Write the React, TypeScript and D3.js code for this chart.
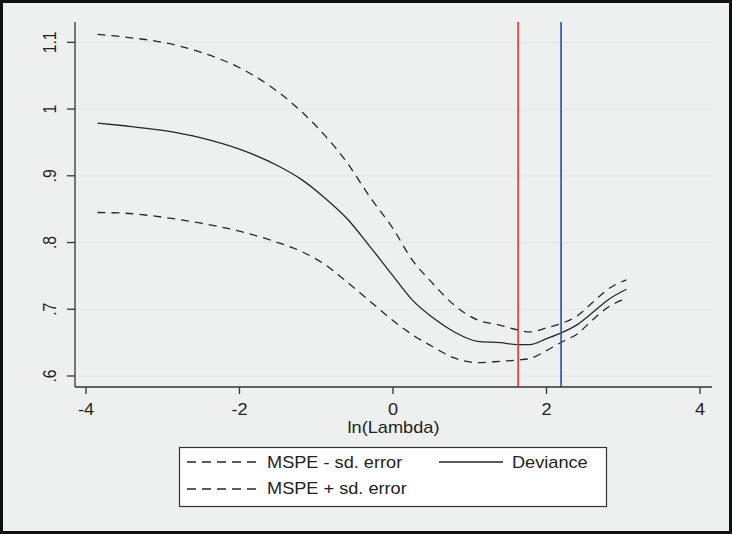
import React from "react";
import * as d3 from "d3";

const lambdas = [-3.85, -3.5, -3.0, -2.5, -2.0, -1.5, -1.2, -0.9, -0.6, -0.3, 0, 0.25, 0.5, 0.8, 1.1, 1.4, 1.63, 1.78, 2.0, 2.2, 2.4, 2.6, 2.8, 3.04];
const deviance = [0.979, 0.975, 0.968, 0.957, 0.94, 0.915, 0.895, 0.868, 0.836, 0.794, 0.75, 0.714, 0.689, 0.666, 0.652, 0.65, 0.647, 0.647, 0.656, 0.665, 0.677, 0.695, 0.714, 0.73];
const msePlus = [1.112, 1.108, 1.1, 1.085, 1.062, 1.026, 0.997, 0.962, 0.92, 0.868, 0.821, 0.774, 0.741, 0.706, 0.684, 0.676, 0.669, 0.666, 0.672, 0.679, 0.69, 0.71, 0.73, 0.744];
const mseMinus = [0.845, 0.844, 0.838, 0.829, 0.817, 0.8, 0.787, 0.768, 0.741, 0.712, 0.683, 0.662, 0.645, 0.627, 0.62, 0.622, 0.624, 0.626, 0.638, 0.651, 0.663, 0.684, 0.703, 0.716];
const xTicks = [-4, -2, 0, 2, 4];
const yTicks = [0.6, 0.7, 0.8, 0.9, 1.0, 1.1];
const yTickLabels = [".6", ".7", ".8", ".9", "1", "1.1"];
const lambdaMin = 1.63;
const lambdaLse = 2.19;
const legendLabels = ["MSPE - sd. error", "Deviance", "MSPE + sd. error"];

const W = 732, H = 534;
const L = 75, R = 712, T = 22, B = 387;
const FONT = "'Liberation Sans', Arial, Helvetica, sans-serif";
const FS = 15.8;
const SX = 1.15;

function HText({ x, y, anchor = "start", children }: { x: number; y: number; anchor?: string; children: React.ReactNode }) {
  return (
    <text transform={`translate(${x},${y}) scale(${SX},1)`} textAnchor={anchor} fontSize={FS} fill="#222">
      {children}
    </text>
  );
}

export default function App() {
  const x = d3.scaleLinear().domain([-4.143, 4.156]).range([L, R]);
  const y = d3.scaleLinear().domain([0.5835, 1.1305]).range([B, T]);
  const line = (vals: number[]) =>
    d3.line<number>().x((_, i) => x(lambdas[i])).y((d) => y(d)).curve(d3.curveMonotoneX)(vals) || "";
  const ink = "#262626";
  return (
    <svg width={W} height={H} style={{ position: "absolute", left: 0, top: 0 }} fontFamily={FONT}>
      <rect x={0} y={0} width={W} height={H} fill="#eef0f0" />
      {yTicks.map((t) => (
        <line key={"g" + t} x1={L} x2={R} y1={y(t)} y2={y(t)} stroke="#e3e5e5" strokeWidth={1} />
      ))}
      <path d={line(msePlus)} fill="none" stroke={ink} strokeWidth={1.3} strokeDasharray="8,6" />
      <path d={line(mseMinus)} fill="none" stroke={ink} strokeWidth={1.3} strokeDasharray="8,6" />
      <path d={line(deviance)} fill="none" stroke={ink} strokeWidth={1.3} />
      <line x1={x(lambdaMin)} x2={x(lambdaMin)} y1={T} y2={B} stroke="#f52a32" strokeWidth={1.6} />
      <line x1={x(lambdaLse)} x2={x(lambdaLse)} y1={T} y2={B} stroke="#2b48a8" strokeWidth={1.6} />
      {/* axes */}
      <line x1={L} x2={L} y1={T} y2={B} stroke="#333" strokeWidth={1.3} />
      <line x1={L} x2={R} y1={B} y2={B} stroke="#333" strokeWidth={1.3} />
      {yTicks.map((t, i) => (
        <g key={"y" + t}>
          <line x1={L - 8} x2={L} y1={y(t)} y2={y(t)} stroke="#333" strokeWidth={1.3} />
          <text transform={`translate(55.5,${y(t)}) rotate(-90) scale(1,${SX})`} textAnchor="middle" fontSize={FS} fill="#222">
            {yTickLabels[i]}
          </text>
        </g>
      ))}
      {xTicks.map((t) => (
        <g key={"x" + t}>
          <line x1={x(t)} x2={x(t)} y1={B} y2={B + 7} stroke="#333" strokeWidth={1.3} />
          <HText x={x(t)} y={415} anchor="middle">
            {t < 0 ? "-" + Math.abs(t) : String(t)}
          </HText>
        </g>
      ))}
      <HText x={(L + R) / 2} y={433} anchor="middle">ln(Lambda)</HText>
      {/* legend */}
      <rect x={179.5} y={447.5} width={427} height={59} fill="#ffffff" stroke="#333" strokeWidth={1.2} />
      <line x1={187} x2={256} y1={462} y2={462} stroke={ink} strokeWidth={1.3} strokeDasharray="9,6" />
      <HText x={267} y={467.5}>{legendLabels[0]}</HText>
      <line x1={439} x2={503} y1={462} y2={462} stroke={ink} strokeWidth={1.3} />
      <HText x={512} y={467.5}>{legendLabels[1]}</HText>
      <line x1={187} x2={256} y1={489} y2={489} stroke={ink} strokeWidth={1.3} strokeDasharray="9,6" />
      <HText x={267} y={494}>{legendLabels[2]}</HText>
      <rect x={1.5} y={1.5} width={W - 3} height={H - 3} fill="none" stroke="#111" strokeWidth={3} />
    </svg>
  );
}
